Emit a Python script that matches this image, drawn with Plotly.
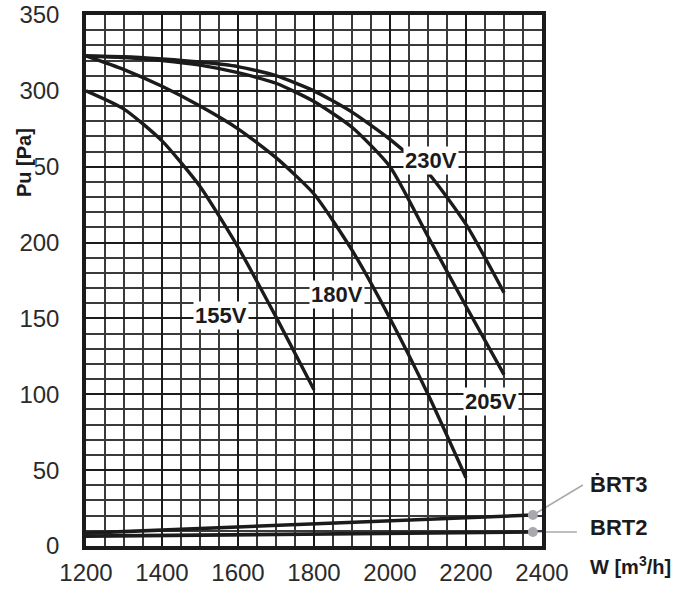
import plotly.graph_objects as go

# Airflow W [m3/h] sampled every 100 m3/h, pressure Pu [Pa]
q_155 = [1200, 1300, 1400, 1500, 1600, 1700, 1800]
p_155 = [300, 288, 267, 237, 197, 151, 103]

q_180 = [1200, 1300, 1400, 1500, 1600, 1700, 1800, 1900, 2000, 2100, 2200]
p_180 = [323, 314, 303, 290, 275, 256, 232, 195, 150, 100, 45]

q_205 = [1200, 1300, 1400, 1500, 1600, 1700, 1800, 1900, 2000, 2100, 2200, 2300]
p_205 = [323, 322, 320, 317, 312, 305, 293, 276, 250, 204, 158, 113]

q_230 = [1200, 1300, 1400, 1500, 1600, 1700, 1800, 1900, 2000, 2100, 2200, 2300]
p_230 = [323, 322.5, 321, 319, 316, 310, 300, 286, 268, 246, 212, 167]

# System resistance of the two housings
q_brt = [1200, 2376]
p_brt3 = [8.5, 20.4]
p_brt2 = [6.5, 9.2]

speed_labels = ["155V", "180V", "205V", "230V"]
label_q = [1555, 1860, 2266, 2108]
label_p = [152, 166, 95, 254]

x_ticks = [1200, 1400, 1600, 1800, 2000, 2200, 2400]
y_ticks = [0, 50, 100, 150, 200, 250, 300, 350]

X_RANGE = [1200, 2400]
Y_RANGE = [0, 350]

INK = "#1b1b1b"
DOT = "#a7a9ac"
SANS = "Liberation Sans, Arial, sans-serif"

fig = go.Figure()

curve_line = dict(color=INK, width=3.4, shape="spline", smoothing=0.6)
for q, p in [(q_155, p_155), (q_180, p_180), (q_205, p_205), (q_230, p_230)]:
    fig.add_trace(go.Scatter(x=q, y=p, mode="lines", line=curve_line,
                             hoverinfo="skip", showlegend=False))

for p in (p_brt3, p_brt2):
    fig.add_trace(go.Scatter(x=q_brt, y=p, mode="lines",
                             line=dict(color=INK, width=3.6),
                             hoverinfo="skip", showlegend=False))

# grey end dots on the resistance lines
fig.add_trace(go.Scatter(x=[q_brt[-1], q_brt[-1]], y=[p_brt3[-1], p_brt2[-1]],
                         mode="markers", cliponaxis=False,
                         marker=dict(color=DOT, size=10),
                         hoverinfo="skip", showlegend=False))


def to_paper_x(v):
    return (v - X_RANGE[0]) / (X_RANGE[1] - X_RANGE[0])


def to_paper_y(v):
    return (v - Y_RANGE[0]) / (Y_RANGE[1] - Y_RANGE[0])


# leader lines from each dot out to its housing name (offsets in pixels)
for p_end, dx, dy in [(p_brt3[-1], 50, 30), (p_brt2[-1], 44, 0)]:
    fig.add_shape(type="line", xref="paper", yref="paper",
                  xsizemode="pixel", ysizemode="pixel",
                  xanchor=to_paper_x(q_brt[-1]), yanchor=to_paper_y(p_end),
                  x0=0, y0=0, x1=dx, y1=dy,
                  line=dict(color=DOT, width=1.6), layer="below")

label_font = dict(family=SANS, size=22, color=INK, weight="bold")

for txt, q, p in zip(speed_labels, label_q, label_p):
    fig.add_annotation(x=q, y=p, text=txt, showarrow=False, font=label_font,
                       bgcolor="white", borderpad=1, xanchor="center", yanchor="middle")

fig.add_annotation(x=1.100, y=0.115, xref="paper", yref="paper", text="ḂRT3",
                   showarrow=False, font=label_font, xanchor="left", yanchor="middle")
fig.add_annotation(x=1.100, y=0.034, xref="paper", yref="paper", text="BRT2",
                   showarrow=False, font=label_font, xanchor="left", yanchor="middle")
fig.add_annotation(x=1.100, y=-0.036, xref="paper", yref="paper",
                   text="W [m<sup>3</sup>/h]", showarrow=False,
                   font=dict(family=SANS, size=20, color=INK, weight="bold"),
                   xanchor="left", yanchor="middle")
fig.add_annotation(x=-0.136, y=0.723, xref="paper", yref="paper", text="Pu [Pa]",
                   textangle=-90, showarrow=False, bgcolor="white", borderpad=0,
                   font=dict(family=SANS, size=20, color=INK, weight="bold"),
                   xanchor="center", yanchor="middle")

tick_font = dict(family=SANS, size=24, color="#2b2b2b")

fig.update_xaxes(range=X_RANGE, tickvals=x_ticks, ticktext=[str(v) for v in x_ticks],
                 showgrid=True, gridcolor=INK, gridwidth=2.4,
                 minor=dict(dtick=50, tick0=1200, showgrid=True, gridcolor="#3a3a3a", gridwidth=1.5),
                 showline=True, mirror=True, linecolor=INK, linewidth=3.5,
                 ticks="", tickfont=tick_font, zeroline=False, ticklabelstandoff=2,
                 automargin=False)
fig.update_yaxes(range=Y_RANGE, tickvals=y_ticks, ticktext=[str(v) for v in y_ticks],
                 showgrid=True, gridcolor=INK, gridwidth=2.4,
                 minor=dict(dtick=10, tick0=0, showgrid=True, gridcolor="#3a3a3a", gridwidth=1.5),
                 showline=True, mirror=True, linecolor=INK, linewidth=3.5,
                 ticks="", tickfont=tick_font, zeroline=False, ticklabelstandoff=18,
                 automargin=False)

fig.update_layout(width=692, height=589, margin=dict(l=86, r=150, t=15, b=43),
                  plot_bgcolor="white", paper_bgcolor="white")

fig.write_html("out.html")
